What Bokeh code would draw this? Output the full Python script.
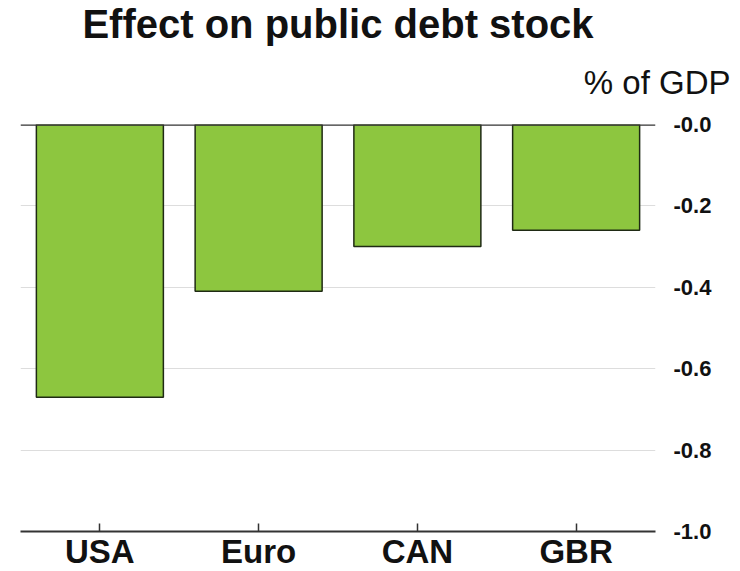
from bokeh.plotting import figure
from bokeh.models import FixedTicker, CustomJSTickFormatter, Range1d, Title, Span
from bokeh.embed import file_html
from bokeh.resources import INLINE

categories = ["USA", "Euro", "CAN", "GBR"]
values = [-0.67, -0.41, -0.30, -0.26]
y_ticks = [0.0, -0.2, -0.4, -0.6, -0.8, -1.0]

p = figure(x_range=categories, y_range=Range1d(-1.0, 0.0),
           frame_width=635, frame_height=407,
           min_border_left=20, min_border_right=77, min_border_top=124, min_border_bottom=0,
           output_backend="svg", toolbar_location=None, y_axis_location="right")
p.title.visible = False
p.outline_line_color = None
p.background_fill_color = "white"

p.vbar(x=categories, top=values, bottom=0, width=0.8,
       fill_color="#8dc63f", line_color="#1f2a14", line_width=1.5)

yax = p.yaxis[0]
yax.ticker = FixedTicker(ticks=y_ticks)
yax.formatter = CustomJSTickFormatter(code="return '-' + Math.abs(tick).toFixed(1);")
yax.axis_line_color = None
yax.major_tick_line_color = None
yax.minor_tick_line_color = None
yax.major_label_text_font = "Liberation Sans"
yax.major_label_text_font_style = "bold"
yax.major_label_text_font_size = "22px"
yax.major_label_text_color = "#111111"
yax.major_label_standoff = 12

xax = p.xaxis[0]
xax.axis_line_color = "#333333"
xax.axis_line_width = 2
xax.major_tick_in = 8
xax.major_tick_out = 0
xax.major_tick_line_color = "#333333"
xax.major_tick_line_width = 1.5
xax.major_label_text_font = "Liberation Sans"
xax.major_label_text_font_style = "bold"
xax.major_label_text_font_size = "33px"
xax.major_label_text_color = "#111111"
xax.major_label_standoff = 1

p.xgrid.grid_line_color = None
p.ygrid.ticker = FixedTicker(ticks=y_ticks)
p.ygrid.grid_line_color = "#dddddd"
p.ygrid.grid_line_width = 1

p.add_layout(Span(location=0, dimension="width", line_color="#333333", line_width=2.5))

p.add_layout(Title(text="% of GDP", align="right", offset=-75, standoff=48,
                   text_font="Liberation Sans", text_font_style="normal",
                   text_font_size="33px", text_color="#111111"), "above")
p.add_layout(Title(text="Effect on public debt stock", align="center", standoff=-17,
                   text_font="Liberation Sans", text_font_style="bold",
                   text_font_size="40px", text_color="#111111"), "above")

open("out.html", "w").write(file_html(p, INLINE))
